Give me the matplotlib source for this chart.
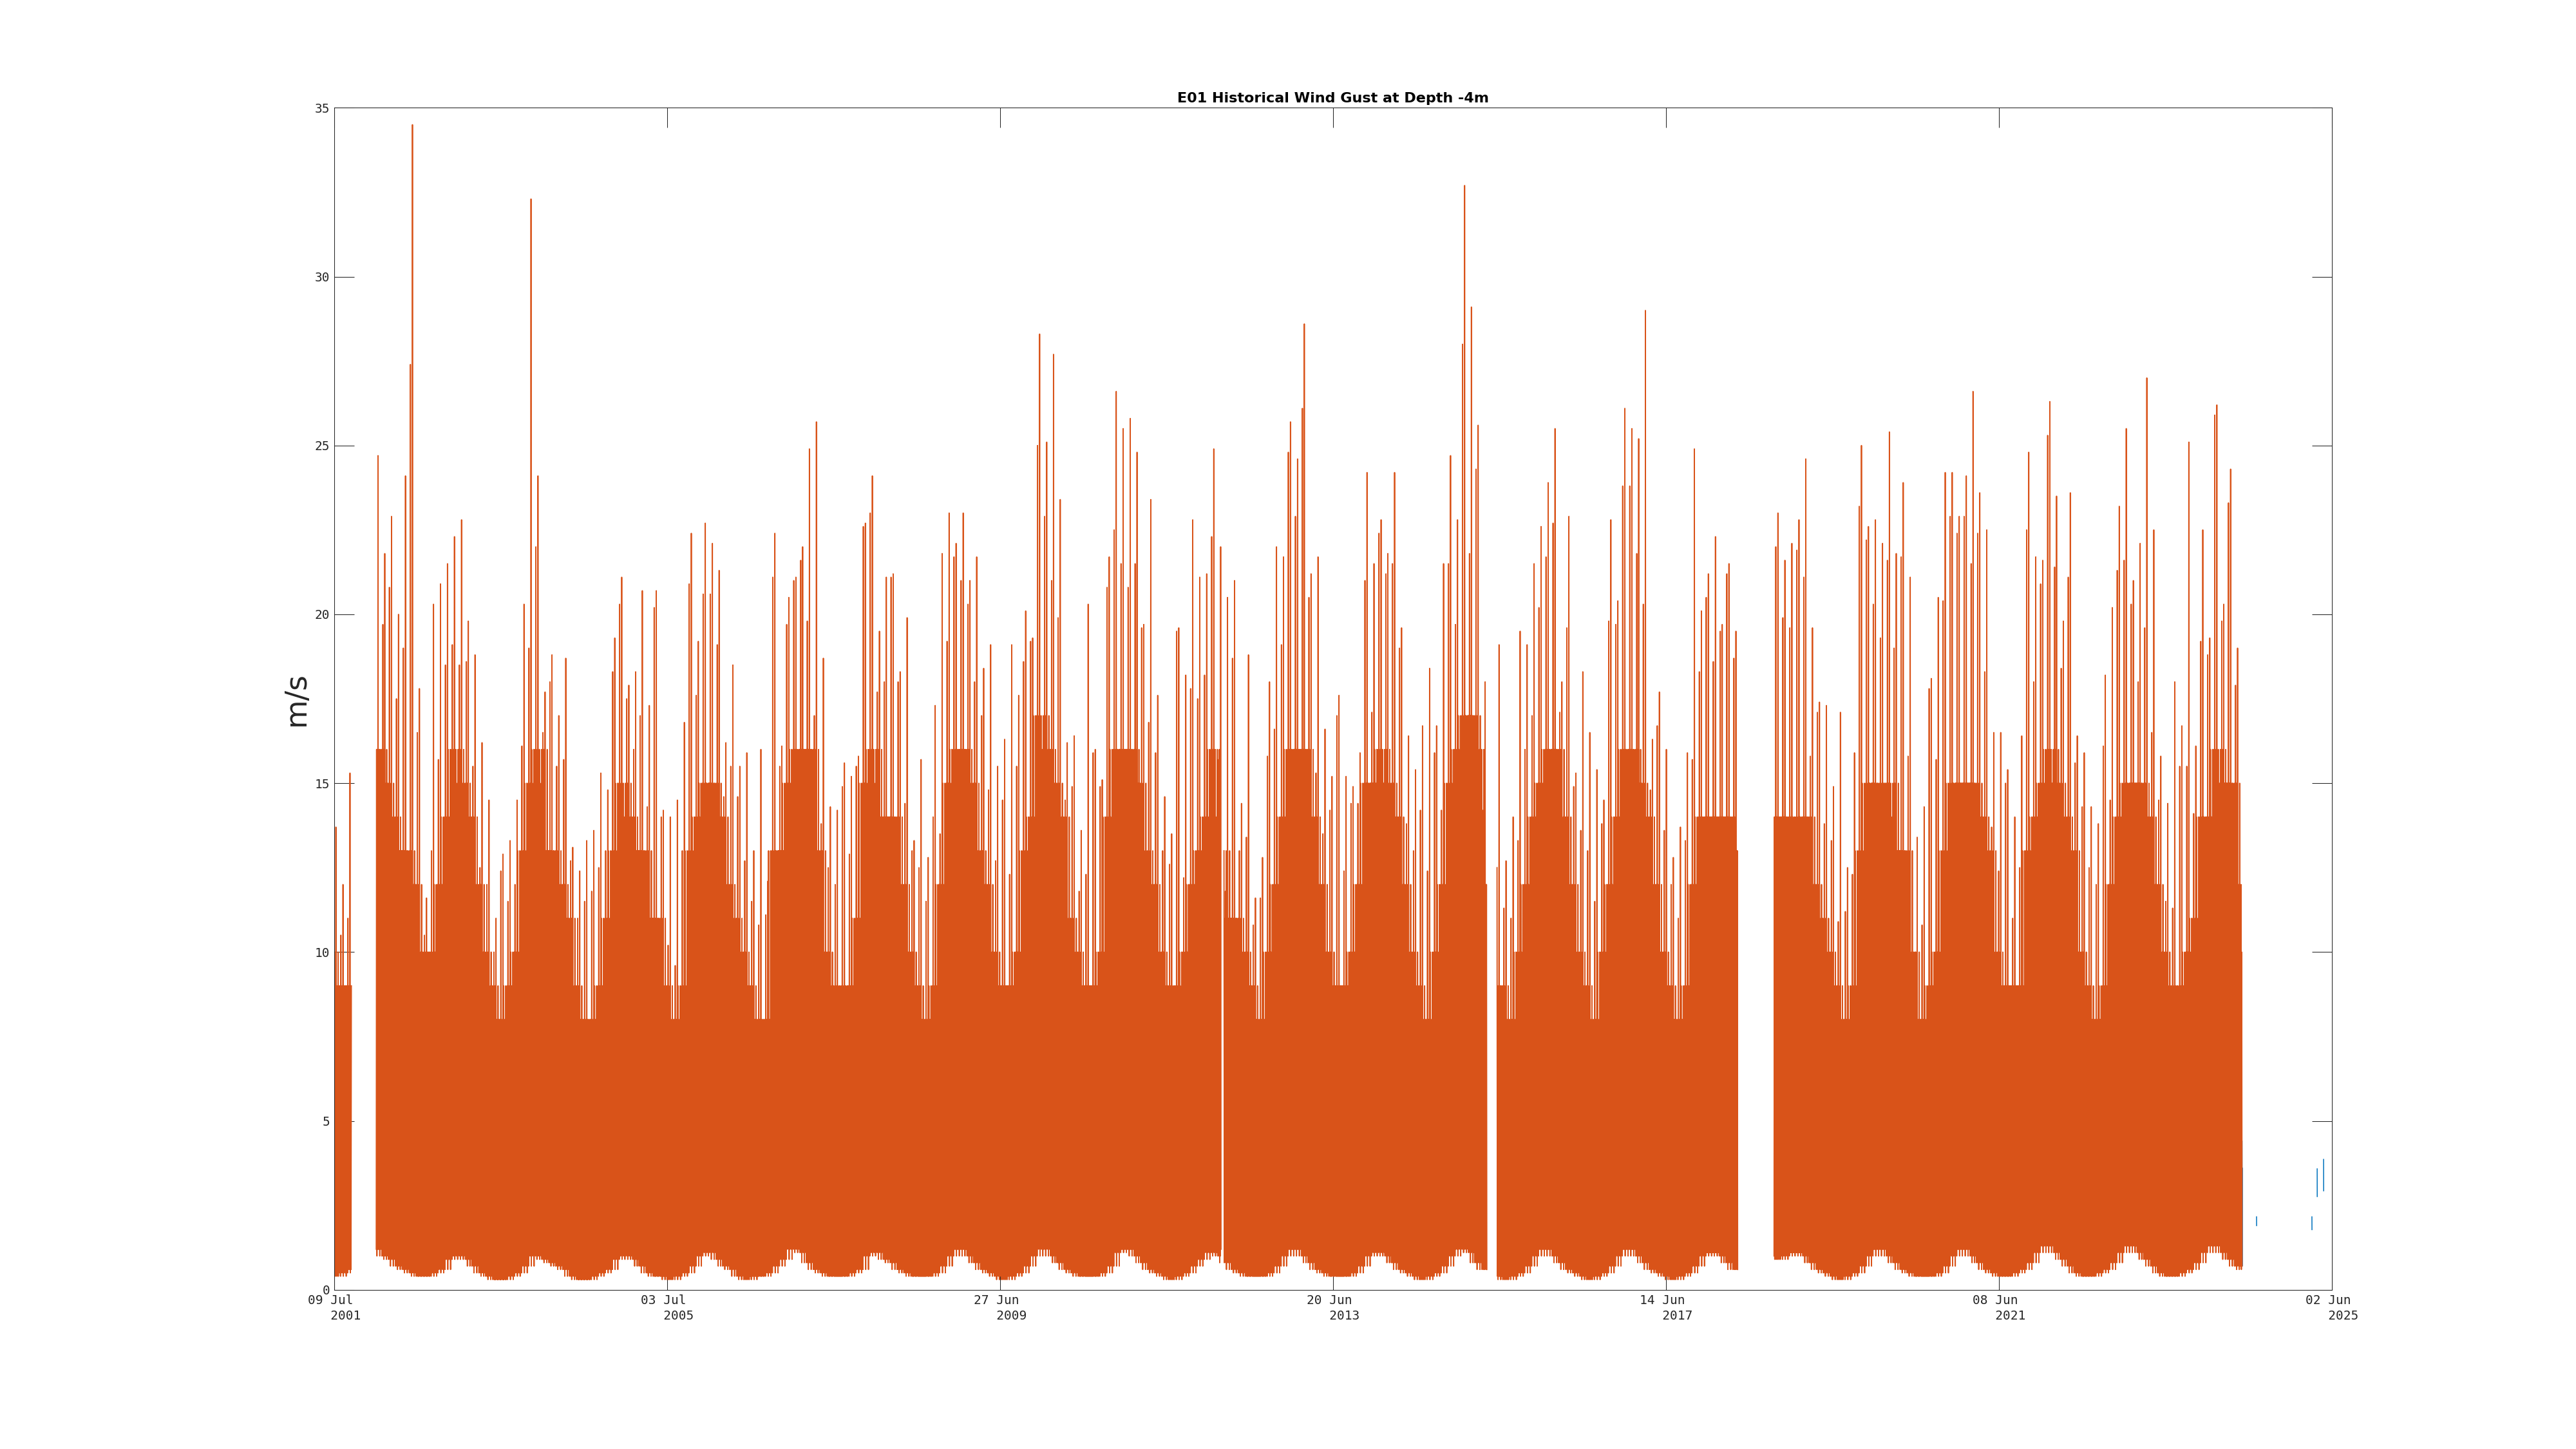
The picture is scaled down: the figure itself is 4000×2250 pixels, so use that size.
import numpy as np
import pandas as pd
import matplotlib
matplotlib.use('Agg')
import matplotlib.pyplot as plt
import matplotlib.dates as mdates

nan = np.nan

# monthly envelope of the gust record, Jul 2001 .. May 2024
months = pd.date_range('2001-07-01', periods=275, freq='MS')

peak = [
    13.7, 12.0, 15.3, nan, nan, nan, 24.7, 21.8, 22.9, 20.0, 24.1, 34.5,
    17.8, 11.6, 20.3, 20.9, 21.5, 22.3, 22.8, 19.8, 18.8, 16.2, 14.5, 11.0,
    12.9, 13.3, 14.5, 20.3, 32.3, 24.1, 17.7, 18.8, 17.0, 18.7, 13.1, 12.4,
    13.3, 13.6, 15.3, 14.8, 19.3, 21.1, 17.9, 18.3, 20.7, 17.3, 20.7, 14.2,
    14.0, 14.5, 16.8, 22.4, 19.2, 22.7, 22.1, 21.3, 16.2, 18.5, 15.5, 15.9,
    13.0, 16.0, 12.1, 22.4, 16.1, 20.5, 21.1, 22.0, 24.9, 25.7, 18.7, 14.3,
    14.2, 15.6, 15.2, 15.8, 22.7, 24.1, 19.5, 21.1, 21.2, 18.3, 19.9, 13.3,
    15.7, 12.8, 17.3, 21.8, 23.0, 22.1, 23.0, 21.0, 21.7, 18.4, 19.1, 15.5,
    16.3, 19.1, 17.6, 20.1, 19.3, 28.3, 25.1, 27.7, 23.4, 16.2, 16.4, 13.6,
    20.3, 16.0, 15.1, 21.7, 26.6, 25.5, 25.8, 24.8, 19.7, 23.4, 17.6, 14.6,
    13.5, 19.6, 18.2, 22.8, 21.1, 21.2, 24.9, 22.0, 20.5, 21.0, 14.4, 18.8,
    11.6, 12.8, 18.0, 22.0, 21.7, 25.7, 24.6, 28.6, 21.2, 21.7, 16.6, 15.2,
    17.6, 15.2, 14.9, 15.9, 24.2, 21.5, 22.8, 21.8, 24.2, 19.6, 16.4, 15.4,
    16.7, 18.4, 16.7, 21.5, 24.7, 22.8, 32.7, 29.1, 25.6, 18.0, nan, 19.1,
    12.7, 14.0, 19.5, 19.1, 21.5, 22.6, 23.9, 25.5, 18.0, 22.9, 15.3, 18.3,
    16.5, 15.4, 14.5, 22.8, 20.4, 26.1, 25.5, 25.2, 29.0, 16.3, 17.7, 16.0,
    12.8, 13.7, 15.9, 24.9, 20.1, 21.2, 22.3, 19.7, 21.5, 19.5, nan, nan,
    nan, nan, 17.0, 23.0, 21.6, 22.1, 22.8, 24.6, 19.6, 17.4, 17.3, 14.9,
    17.1, 12.5, 15.9, 25.0, 22.6, 22.8, 22.1, 25.4, 21.8, 23.9, 21.1, 13.4,
    14.3, 18.1, 20.5, 24.2, 24.2, 22.9, 24.1, 26.6, 23.6, 22.5, 16.5, 16.5,
    15.4, 14.0, 16.4, 24.8, 21.7, 21.6, 26.3, 23.5, 19.8, 23.6, 16.4, 15.9,
    14.3, 13.8, 18.2, 20.2, 23.2, 25.5, 21.0, 22.1, 27.0, 22.5, 15.8, 14.4,
    18.0, 16.7, 25.1, 16.1, 22.5, 19.3, 26.2, 20.3, 24.3, 19.0, 13.1,
]
peak2 = [
    12.4, 10.5, 11.0, nan, nan, nan, 21.0, 19.7, 20.8, 17.5, 19.0, 27.4,
    16.5, 10.5, 13.0, 15.7, 18.5, 19.1, 18.5, 18.6, 15.5, 12.5, 12.0, 10.0,
    12.4, 11.5, 12.0, 16.1, 19.0, 22.0, 16.5, 18.0, 15.5, 15.7, 12.7, 11.0,
    11.5, 11.8, 12.5, 13.0, 18.3, 20.3, 17.5, 16.0, 17.0, 14.3, 20.2, 14.0,
    10.2, 9.6, 13.0, 20.9, 17.6, 20.6, 20.6, 19.1, 14.6, 15.5, 14.6, 12.7,
    11.5, 10.8, 11.1, 21.1, 15.5, 19.7, 21.0, 21.6, 19.8, 17.0, 13.8, 12.5,
    12.0, 14.9, 12.9, 15.5, 22.6, 23.0, 17.7, 18.0, 21.1, 18.0, 14.4, 13.0,
    12.5, 11.5, 14.0, 13.5, 19.2, 21.7, 21.0, 20.3, 18.0, 17.0, 14.8, 12.7,
    14.5, 12.3, 15.5, 18.6, 19.2, 25.0, 22.9, 21.0, 19.9, 14.5, 14.9, 11.8,
    12.3, 15.9, 14.9, 20.8, 22.5, 21.5, 20.8, 21.5, 19.6, 16.8, 15.9, 13.0,
    12.6, 19.5, 12.2, 17.8, 17.5, 18.2, 22.3, 15.7, 11.8, 18.7, 13.0, 13.4,
    10.8, 11.6, 15.8, 16.6, 19.1, 24.8, 22.9, 26.1, 20.5, 15.3, 13.5, 14.2,
    17.0, 12.4, 14.4, 14.4, 21.0, 17.1, 22.4, 21.2, 21.5, 19.0, 13.8, 13.0,
    14.2, 12.4, 15.9, 14.2, 21.5, 19.7, 28.0, 21.8, 24.3, 14.2, nan, 12.5,
    11.3, 11.0, 13.3, 16.0, 17.0, 20.2, 21.7, 22.7, 17.1, 19.6, 14.9, 13.6,
    13.0, 11.5, 13.8, 19.8, 19.7, 23.8, 23.8, 21.8, 20.3, 14.8, 16.7, 13.6,
    12.0, 11.0, 13.3, 15.7, 18.3, 20.5, 18.6, 19.5, 21.2, 18.7, nan, nan,
    nan, nan, 15.0, 22.0, 19.9, 19.6, 21.9, 21.1, 15.8, 17.1, 13.8, 13.3,
    10.9, 11.2, 12.3, 23.2, 22.2, 20.3, 19.3, 21.6, 19.0, 21.7, 15.8, 10.0,
    10.8, 17.8, 15.7, 20.4, 22.9, 22.4, 22.9, 21.5, 22.4, 18.3, 13.7, 12.4,
    15.0, 11.0, 12.5, 22.5, 18.0, 20.9, 25.3, 21.4, 18.4, 21.1, 15.6, 14.3,
    12.5, 12.0, 16.1, 14.5, 21.3, 21.6, 20.3, 18.0, 19.6, 16.5, 14.5, 11.5,
    11.3, 15.5, 15.5, 14.1, 19.2, 18.8, 25.9, 19.8, 23.3, 17.9, 10.0,
]
core = [
    9, 9, 9, nan, nan, nan, 16, 15, 14, 13, 13, 12,
    10, 9, 10, 12, 14, 16, 15, 14, 12, 10, 9, 8,
    8, 9, 10, 13, 15, 16, 13, 13, 12, 11, 9, 8,
    8, 8, 9, 11, 13, 15, 14, 13, 13, 11, 11, 9,
    8, 8, 9, 13, 14, 15, 15, 14, 12, 11, 10, 9,
    8, 8, 8, 13, 13, 15, 16, 16, 16, 13, 10, 9,
    8, 9, 9, 11, 15, 16, 14, 14, 14, 12, 10, 9,
    8, 8, 9, 12, 15, 16, 16, 15, 13, 12, 10, 9,
    9, 9, 10, 13, 14, 17, 16, 15, 14, 11, 10, 9,
    9, 9, 10, 14, 16, 16, 16, 15, 13, 12, 10, 9,
    8, 9, 10, 12, 13, 14, 16, 13, 11, 11, 10, 9,
    8, 8, 10, 12, 14, 16, 16, 16, 14, 12, 10, 9,
    9, 9, 10, 12, 15, 15, 16, 15, 14, 12, 10, 9,
    8, 8, 10, 12, 15, 16, 17, 17, 16, 12, nan, 9,
    8, 8, 10, 12, 14, 15, 16, 16, 14, 12, 10, 9,
    8, 8, 10, 12, 14, 16, 16, 15, 14, 12, 10, 9,
    8, 8, 9, 12, 14, 14, 14, 14, 14, 13, nan, nan,
    nan, nan, 14, 14, 14, 13, 14, 14, 12, 11, 10, 9,
    8, 8, 9, 13, 15, 15, 14, 15, 13, 13, 10, 8,
    8, 9, 10, 13, 15, 15, 15, 15, 14, 13, 10, 9,
    9, 9, 9, 13, 14, 15, 16, 15, 14, 13, 10, 9,
    8, 8, 9, 12, 14, 15, 15, 15, 14, 12, 10, 9,
    8, 9, 10, 11, 14, 14, 16, 15, 15, 12, 10,
]
low = [
    0.4, 0.5, 0.6, nan, nan, nan, 1.2, 1.0, 0.9, 0.7, 0.6, 0.5,
    0.4, 0.4, 0.5, 0.6, 0.9, 1.1, 1.0, 0.9, 0.7, 0.5, 0.4, 0.3,
    0.3, 0.4, 0.5, 0.7, 1.0, 1.2, 0.9, 0.8, 0.7, 0.6, 0.4, 0.3,
    0.3, 0.4, 0.5, 0.6, 0.9, 1.1, 1.0, 0.9, 0.7, 0.5, 0.4, 0.4,
    0.3, 0.4, 0.5, 0.7, 1.0, 1.2, 1.1, 0.9, 0.7, 0.6, 0.4, 0.3,
    0.4, 0.4, 0.5, 0.7, 0.9, 1.2, 1.3, 1.1, 0.8, 0.6, 0.5, 0.4,
    0.4, 0.4, 0.5, 0.6, 1.0, 1.2, 1.1, 0.9, 0.8, 0.6, 0.5, 0.4,
    0.4, 0.4, 0.5, 0.7, 1.0, 1.2, 1.2, 1.0, 0.8, 0.6, 0.5, 0.4,
    0.3, 0.4, 0.5, 0.7, 1.0, 1.3, 1.2, 1.0, 0.8, 0.6, 0.5, 0.4,
    0.4, 0.4, 0.5, 0.7, 1.1, 1.2, 1.2, 1.0, 0.8, 0.6, 0.5, 0.4,
    0.3, 0.4, 0.5, 0.7, 0.9, 1.1, 1.2, 1.0, 0.8, 0.6, 0.5, 0.4,
    0.4, 0.4, 0.5, 0.7, 1.0, 1.2, 1.2, 1.0, 0.8, 0.6, 0.5, 0.4,
    0.4, 0.4, 0.5, 0.7, 1.0, 1.1, 1.2, 1.0, 0.8, 0.6, 0.5, 0.4,
    0.3, 0.4, 0.5, 0.7, 1.0, 1.2, 1.3, 1.1, 0.8, 0.6, nan, 0.4,
    0.3, 0.4, 0.5, 0.7, 1.0, 1.2, 1.2, 1.0, 0.8, 0.6, 0.5, 0.4,
    0.3, 0.4, 0.5, 0.7, 1.0, 1.2, 1.2, 1.0, 0.8, 0.6, 0.5, 0.4,
    0.3, 0.4, 0.5, 0.7, 1.0, 1.1, 1.1, 1.0, 0.8, 0.6, nan, nan,
    nan, nan, 1.0, 0.9, 1.0, 1.1, 1.1, 1.0, 0.8, 0.6, 0.5, 0.4,
    0.3, 0.4, 0.5, 0.7, 1.0, 1.2, 1.2, 1.0, 0.8, 0.6, 0.5, 0.4,
    0.4, 0.4, 0.5, 0.7, 1.0, 1.2, 1.2, 1.0, 0.8, 0.6, 0.5, 0.4,
    0.4, 0.5, 0.6, 0.8, 1.1, 1.3, 1.3, 1.1, 0.9, 0.7, 0.5, 0.4,
    0.4, 0.5, 0.6, 0.8, 1.1, 1.3, 1.3, 1.1, 0.9, 0.7, 0.5, 0.4,
    0.4, 0.5, 0.6, 0.8, 1.1, 1.3, 1.3, 1.1, 0.9, 0.7, 0.6,
]

# periods with no orange record
record_start = '2001-07-09'
gap_start = ['2001-09-22', '2012-02-17', '2015-04-23', '2018-04-24', '2024-05-06']
gap_end = ['2002-01-07', '2012-02-28', '2015-06-06', '2018-09-28', '2024-06-01']

# the few blue samples at the end of the record
blue_times = ['2024-05-04 18:00', '2024-05-05 06:00', '2024-05-05 18:00', '2024-06-01 00:00',
              '2024-07-07 00:00', '2024-07-07 06:00', '2024-08-01 00:00',
              '2025-03-06 00:00', '2025-03-06 06:00', '2025-03-10 00:00',
              '2025-03-29 00:00', '2025-03-29 06:00', '2025-04-10 00:00',
              '2025-04-26 00:00', '2025-04-26 06:00']
blue_values = [4.4, 0.7, 3.6, nan, 2.16, 1.90, nan, 2.16, 1.78, nan, 3.58, 2.76, nan, 3.86, 2.93]

tick_dates = ['2001-07-09', '2005-07-03', '2009-06-27', '2013-06-20',
              '2017-06-14', '2021-06-08', '2025-06-02']

orange = '#D95319'
blue = '#0072BD'
dark = '#262626'


def neighbour(a, step):
    # the adjacent month's value, or the month's own one at a record edge
    b = np.roll(a, step)
    return np.where(np.isnan(b), a, b)


# each month is drawn as a run of strokes between its lows and its upper levels
peak, peak2, core, low = map(np.array, (peak, peak2, core, low))
core_p, core_n = neighbour(core, 1), neighbour(core, -1)
low_p, low_n = neighbour(low, 1), neighbour(low, -1)
levels = np.column_stack([low, core, low_p, peak2, low, core_p, low_n, core,
                          low, peak, low_p, core_n, low, core, low_n, core_p,
                          low, core_n, low_p, core])
n_sub = levels.shape[1]
start = mdates.date2num(months.to_pydatetime())
stop = mdates.date2num((months + pd.offsets.MonthBegin(1)).to_pydatetime())
frac = (np.arange(n_sub) + 0.5) / n_sub
x = (start[:, None] + (stop - start)[:, None] * frac[None, :]).ravel()
y = levels.ravel().astype(float)

y[x < mdates.datestr2num(record_start)] = nan
for s, e in zip(gap_start, gap_end):
    y[(x >= mdates.datestr2num(s)) & (x < mdates.datestr2num(e))] = nan

fig = plt.figure(figsize=(40, 22.5), dpi=100)
ax = fig.add_axes([0.1298, 0.1099, 0.7755, 0.8157])

bx = mdates.date2num(pd.to_datetime(blue_times, format='%Y-%m-%d %H:%M').to_pydatetime())
ax.plot(bx, blue_values, color=blue, lw=1.1)
ax.plot(x, y, color=orange, lw=1.3)

ax.set_xlim(mdates.datestr2num(tick_dates[0]), mdates.datestr2num(tick_dates[-1]))
ax.set_ylim(0, 35)

tk = pd.to_datetime(tick_dates)
ax.set_xticks(mdates.date2num(tk.to_pydatetime()))
ax.set_xticklabels([f'{d:%d %b}\n   {d:%Y}' for d in tk])
ax.set_yticks(np.arange(0, 36, 5))

ax.tick_params(axis='both', direction='in', length=22, width=0.75, color=dark,
               labelsize=14, labelcolor=dark, top=True, right=True)
ax.tick_params(axis='x', pad=5)
ax.tick_params(axis='y', pad=5)
for lbl in ax.get_xticklabels():
    lbl.set_fontfamily('DejaVu Sans Mono')
    lbl.set_multialignment('left')
    lbl.set_linespacing(1.35)
for lbl in ax.get_yticklabels():
    lbl.set_fontfamily('DejaVu Sans Mono')

for sp in ax.spines.values():
    sp.set_color(dark)
    sp.set_linewidth(0.75)

ax.set_title('E01 Historical Wind Gust at Depth -4m', fontsize=16, fontweight='bold')
ax.set_ylabel('m/s', fontsize=33, color=dark)

fig.savefig('out.png', dpi=100)
